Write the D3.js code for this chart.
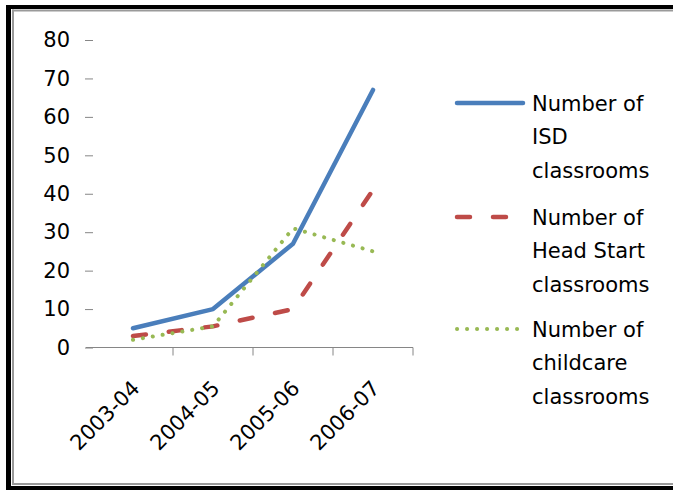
<!DOCTYPE html>
<html><head><meta charset="utf-8">
<script src="https://cdn.jsdelivr.net/npm/d3@7/dist/d3.min.js"></script>
<style>
html,body{margin:0;padding:0;background:#fff;}
svg{display:block;}
text{font-family:"DejaVu Sans",sans-serif;fill:#000;}
</style></head>
<body>
<svg id="chart" width="673" height="490"></svg>
<script>
const categories = ["2003-04", "2004-05", "2005-06", "2006-07"];
const isdValues = [5, 10, 27, 67];
const headStartValues = [3, 5.5, 10, 41];
const childcareValues = [2, 5.5, 31, 25];
const yTicks = [0, 10, 20, 30, 40, 50, 60, 70, 80];
const seriesNames = [
  ["Number of", "ISD", "classrooms"],
  ["Number of", "Head Start", "classrooms"],
  ["Number of", "childcare", "classrooms"]
];
const seriesColors = ["#4A7EBB", "#BE4B48", "#98B954"];

const svg = d3.select("#chart");
svg.append("rect").attr("width", 673).attr("height", 490).attr("fill", "#fff");

// frame
svg.append("rect").attr("x", 6).attr("y", 5).attr("width", 5).attr("height", 485).attr("fill", "#000");
svg.append("rect").attr("x", 6).attr("y", 5).attr("width", 667).attr("height", 4).attr("fill", "#000");
svg.append("rect").attr("x", 6).attr("y", 486).attr("width", 667).attr("height", 4).attr("fill", "#000");
svg.append("rect").attr("x", 12).attr("y", 9.5).attr("width", 2).attr("height", 475).attr("fill", "#9a9a9a");
svg.append("rect").attr("x", 12).attr("y", 9.5).attr("width", 661).attr("height", 2).attr("fill", "#9a9a9a");
svg.append("rect").attr("x", 12).attr("y", 483).attr("width", 661).attr("height", 2).attr("fill", "#9a9a9a");

const x = d3.scaleBand().domain(categories).range([93, 413]).padding(0);
const y = d3.scaleLinear().domain([0, 80]).range([347.5, 40]);
const cx = c => x(c) + x.bandwidth() / 2;

// y axis
const yAxis = svg.append("g").attr("transform", "translate(93,0)")
  .call(d3.axisLeft(y).tickValues(yTicks).tickSize(8).tickPadding(15).tickFormat(d3.format("d")));
yAxis.select(".domain").remove();
yAxis.selectAll(".tick line").attr("stroke", "#868686").attr("x1", -8).attr("x2", 0);
yAxis.selectAll(".tick text").attr("font-size", 21).attr("font-family", "DejaVu Sans").attr("fill", "#000");

// x axis
const axisG = svg.append("g");
axisG.append("line").attr("x1", 86).attr("x2", x.range()[1]).attr("y1", y(0)).attr("y2", y(0))
  .attr("stroke", "#868686").attr("stroke-width", 1);
axisG.selectAll(".xt").data(categories).enter().append("line")
  .attr("x1", d => x(d) + x.bandwidth()).attr("x2", d => x(d) + x.bandwidth())
  .attr("y1", y(0)).attr("y2", y(0) + 8).attr("stroke", "#868686");
axisG.selectAll(".xl").data(categories).enter().append("text")
  .attr("transform", d => `translate(${cx(d) + 8},${y(0) + 42}) rotate(-45)`)
  .attr("text-anchor", "end").attr("font-size", 21).text(d => d);

// lines
const line = d3.line().x((d, i) => cx(categories[i])).y(d => y(d));
const seriesData = [isdValues, headStartValues, childcareValues];
const styles = [
  {w: 4.5, dash: null, cap: "round"},
  {w: 4.5, dash: "13,23", cap: "round"},
  {w: 4, dash: "0.1,9.9", cap: "round"}
];
// draw order: childcare, headstart, isd? Excel draws in series order (later on top)
seriesData.forEach((vals, i) => {
  const p = svg.append("path").datum(vals).attr("d", line)
    .attr("fill", "none").attr("stroke", seriesColors[i]).attr("stroke-width", styles[i].w)
    .attr("stroke-linecap", styles[i].cap).attr("stroke-linejoin", "round");
  if (styles[i].dash) p.attr("stroke-dasharray", styles[i].dash);
});

// legend
const legendY = [103, 217, 329];
seriesNames.forEach((lines, i) => {
  const g = svg.append("g");
  const l = g.append("line").attr("x1", 457).attr("x2", 523).attr("y1", legendY[i]).attr("y2", legendY[i])
    .attr("stroke", seriesColors[i]).attr("stroke-width", styles[i].w).attr("stroke-linecap", styles[i].cap);
  if (styles[i].dash) l.attr("stroke-dasharray", styles[i].dash);
  lines.forEach((t, j) => {
    g.append("text").attr("x", 532).attr("y", legendY[i] + 7.5 + j * 33.5).attr("font-size", 21).text(t);
  });
});
</script>
</body></html>
